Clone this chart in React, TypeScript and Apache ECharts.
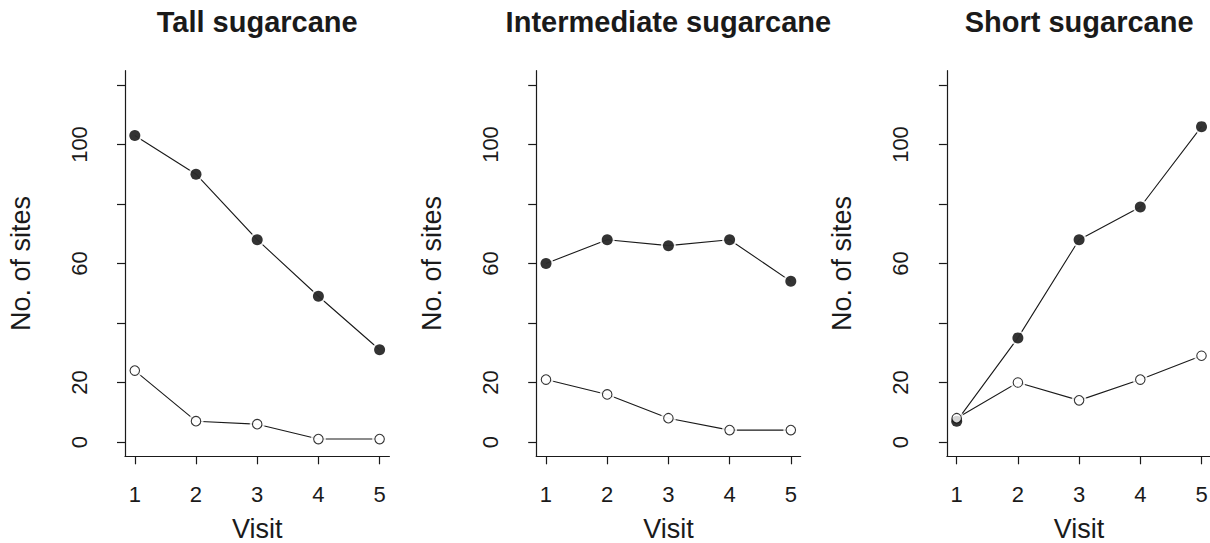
import React, { useEffect, useRef } from "react";
import * as echarts from "echarts";

const visits = [1, 2, 3, 4, 5];
const panelTitles = ["Tall sugarcane", "Intermediate sugarcane", "Short sugarcane"];
const tallFilled = [103, 90, 68, 49, 31];
const tallOpen = [24, 7, 6, 1, 1];
const interFilled = [60, 68, 66, 68, 54];
const interOpen = [21, 16, 8, 4, 4];
const shortFilled = [7, 35, 68, 79, 106];
const shortOpen = [8, 20, 14, 21, 29];
const yTicks = [0, 20, 40, 60, 80, 100, 120];
const yTickLabels = [0, 20, 60, 100];

const INK = "#1a1a1a";
const FONT = "'Liberation Sans', Arial, Helvetica, sans-serif";

const gridLefts = [125, 536.2, 946.9];
const gridWidth = 264.4;
const gridTop = 70.7;
const gridHeight = 385.6;

export default function App() {
  const ref = useRef<HTMLDivElement>(null);
  useEffect(() => {
    if (!ref.current) return;
    const chart = echarts.init(ref.current, null, { renderer: "svg" });
    const filledSets = [tallFilled, interFilled, shortFilled];
    const openSets = [tallOpen, interOpen, shortOpen];

    const grids = gridLefts.map((left) => ({
      left,
      top: gridTop,
      width: gridWidth,
      height: gridHeight,
      containLabel: false,
      outerBoundsMode: "none",
    }));

    const xAxes = gridLefts.map((_, i) => ({
      gridIndex: i,
      type: "value",
      min: 0.84,
      max: 5.16,
      axisLine: { show: true, onZero: false, lineStyle: { color: INK, width: 1.2 } },
      axisTick: { show: true, customValues: visits, length: 8, lineStyle: { color: INK, width: 1.2 } },
      axisLabel: { customValues: visits, margin: 27, fontSize: 22, color: INK, fontFamily: FONT },
      splitLine: { show: false },
      name: "Visit",
      nameLocation: "middle",
      nameGap: 62,
      nameTextStyle: { fontSize: 27, lineHeight: 22, color: INK, fontFamily: FONT },
    }));

    const yAxes = gridLefts.map((_, i) => ({
      gridIndex: i,
      type: "value",
      min: -4.8,
      max: 124.8,
      axisLine: { show: true, onZero: false, lineStyle: { color: INK, width: 1.2 } },
      axisTick: { show: true, customValues: yTicks, length: 8, lineStyle: { color: INK, width: 1.2 } },
      axisLabel: {
        customValues: yTickLabels,
        rotate: 90,
        margin: 35,
        align: "center",
        verticalAlign: "bottom",
        fontSize: 22,
        color: INK,
        fontFamily: FONT,
      },
      splitLine: { show: false },
      name: "No. of sites",
      nameLocation: "middle",
      nameRotate: 90,
      nameGap: 91,
      nameTextStyle: { fontSize: 27, color: INK, fontFamily: FONT },
    }));

    const series: any[] = [];
    for (let i = 0; i < 3; i++) {
      const sets = [
        { vals: filledSets[i], filled: true },
        { vals: openSets[i], filled: false },
      ];
      for (const s of sets) {
        const data = visits.map((v, k) => [v, s.vals[k]]);
        series.push({
          type: "line",
          xAxisIndex: i,
          yAxisIndex: i,
          data,
          showSymbol: false,
          symbol: "none",
          lineStyle: { color: INK, width: 1.1 },
          z: 2,
          silent: true,
        });
        series.push({
          type: "scatter",
          xAxisIndex: i,
          yAxisIndex: i,
          data,
          symbol: "circle",
          symbolSize: 15,
          itemStyle: { color: "#ffffff" },
          z: 3,
          silent: true,
        });
        series.push({
          type: "scatter",
          xAxisIndex: i,
          yAxisIndex: i,
          data,
          symbol: "circle",
          symbolSize: s.filled ? 11 : 9.5,
          itemStyle: s.filled
            ? { color: "#000000" }
            : { color: "#ffffff", borderColor: "#000000", borderWidth: 1.1 },
          z: 4,
          silent: true,
        });
      }
    }

    const graphic: any[] = panelTitles.map((t, i) => ({
      type: "text",
      x: gridLefts[i] + gridWidth / 2,
      y: 22,
      style: {
        text: t,
        textAlign: "center",
        textVerticalAlign: "middle",
        fontSize: 29,
        fontWeight: "bold",
        fontFamily: FONT,
        fill: INK,
      },
    }));

    chart.setOption({
      animation: false,
      backgroundColor: "#ffffff",
      grid: grids,
      xAxis: xAxes,
      yAxis: yAxes,
      series,
      graphic,
    });
    return () => chart.dispose();
  }, []);
  return (
    <div
      ref={ref}
      style={{ position: "fixed", left: 0, top: 0, width: 1210, height: 543, background: "#fff" }}
    />
  );
}
